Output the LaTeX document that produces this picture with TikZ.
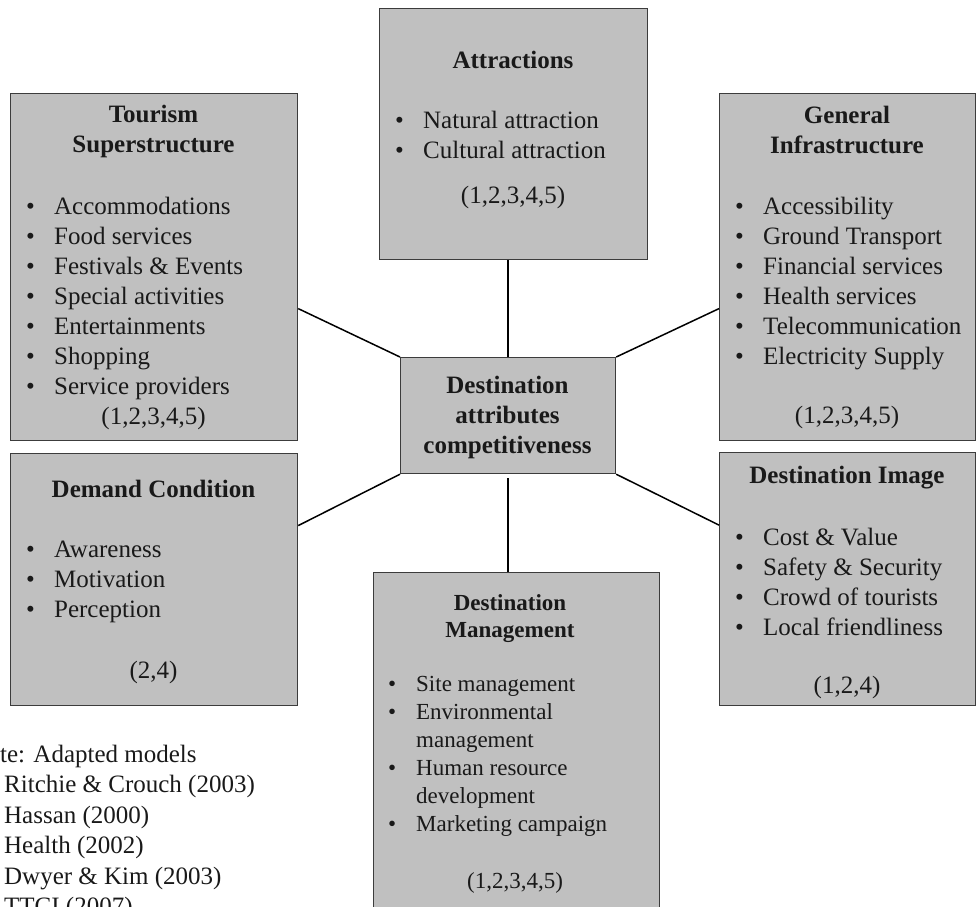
\documentclass[tikz,border=0pt]{standalone}
\usepackage{fontspec}
\setmainfont{Liberation Serif}
\usetikzlibrary{positioning}
\definecolor{boxfill}{RGB}{192,192,192}
\definecolor{boxline}{RGB}{60,60,60}
\tikzstyle{box}=[rectangle, draw=boxline, fill=boxfill, line width=1.2pt, anchor=north west, inner sep=0]
\tikzstyle{txt}=[inner sep=0, text=black!90, font=\fontsize{25}{30}\selectfont]
\tikzstyle{head}=[txt, anchor=base, font=\fontsize{25}{30}\selectfont\bfseries]
\tikzstyle{item}=[txt, anchor=base west]
\tikzstyle{refs}=[txt, anchor=base]
\tikzstyle{link}=[line width=1.5pt, black]
\newcommand{\bul}{\makebox[28pt][l]{\textbullet}}
\newcommand{\nobul}{\makebox[28pt][l]{}}

\begin{document}
\begin{tikzpicture}[x=1pt, y=-1pt]
      \useasboundingbox (0,0) rectangle (977,906);
      \clip (0,0) rectangle (977,906);

      \node[box, minimum width=287pt, minimum height=347pt] (super) at (10,93) {};
      \node[box, minimum width=268pt, minimum height=251pt] (attr) at (379,8) {};
      \node[box, minimum width=256pt, minimum height=347pt] (infra) at (719,93) {};
      \node[box, minimum width=215pt, minimum height=116pt] (dest) at (400,357) {};
      \node[box, minimum width=287pt, minimum height=252pt] (demand) at (10,453) {};
      \node[box, minimum width=256pt, minimum height=253pt] (image) at (719,452) {};
      \node[box, minimum width=286pt, minimum height=360pt] (manage) at (373,572) {};

      \draw[link] (dest.north) -- (dest.north |- attr.south);
      \draw[link] (dest.north west) -- ([yshift=-41.5pt]super.east);
      \draw[link] (dest.north east) -- ([yshift=-41.5pt]infra.west);
      \draw[link] (dest.south west) -- ([yshift=54pt]demand.east);
      \draw[link] (dest.south east) -- ([yshift=54pt]image.west);
      \draw[link] ([yshift=-4pt]dest.south) -- (dest.south |- manage.north);

      % centre
      \foreach \lbl [count=\i from 0] in {Destination, attributes, competitiveness}
        \node[head] (dest-\i) at (507.5,{393+30*\i}) {\lbl};

      % tourism superstructure
      \foreach \lbl [count=\i from 0] in {Tourism, Superstructure}
        \node[head] (super-h\i) at (153.5,{122+30*\i}) {\lbl};
      \foreach \lbl [count=\i from 0] in {Accommodations, Food services,
          Festivals \& Events, Special activities, Entertainments, Shopping,
          Service providers}
        \node[item] (super-\i) at (26,{214+30*\i}) {\bul\lbl};
      \node[refs] (super-r) at (153.5,424) {(1,2,3,4,5)};

      % attractions
      \node[head] (attr-h) at (513,68) {Attractions};
      \foreach \lbl [count=\i from 0] in {Natural attraction, Cultural attraction}
        \node[item] (attr-\i) at (395,{128+30*\i}) {\bul\lbl};
      \node[refs] (attr-r) at (513,203) {(1,2,3,4,5)};

      % general infrastructure
      \foreach \lbl [count=\i from 0] in {General, Infrastructure}
        \node[head] (infra-h\i) at (847,{123+30*\i}) {\lbl};
      \foreach \lbl [count=\i from 0] in {Accessibility, Ground Transport,
          Financial services, Health services, Telecommunication,
          Electricity Supply}
        \node[item] (infra-\i) at (735,{214+30*\i}) {\bul\lbl};
      \node[refs] (infra-r) at (847,423) {(1,2,3,4,5)};

      % destination image
      \node[head] (image-h) at (847,483) {Destination Image};
      \foreach \lbl [count=\i from 0] in {Cost \& Value, Safety \& Security,
          Crowd of tourists, Local friendliness}
        \node[item] (image-\i) at (735,{545+30*\i}) {\bul\lbl};
      \node[refs] (image-r) at (847,693) {(1,2,4)};

      % demand condition
      \node[head] (demand-h) at (153.5,497) {Demand Condition};
      \foreach \lbl [count=\i from 0] in {Awareness, Motivation, Perception}
        \node[item] (demand-\i) at (26,{557+30*\i}) {\bul\lbl};
      \node[refs] (demand-r) at (153.5,678) {(2,4)};

      % destination management
      \foreach \lbl [count=\i from 0] in {Destination, Management}
        \node[head, font=\fontsize{23}{28}\selectfont\bfseries] (manage-h\i)
          at (510,{610+27*\i}) {\lbl};
      \foreach \lbl/\b [count=\i from 0] in {Site management/\bul,
          Environmental/\bul, management/\nobul, Human resource/\bul,
          development/\nobul, Marketing campaign/\bul}
        \node[item, font=\fontsize{23}{28}\selectfont] (manage-\i)
          at (388,{691+28*\i}) {\b\lbl};
      \node[refs, font=\fontsize{23}{28}\selectfont] (manage-r) at (515,888) {(1,2,3,4,5)};

      % note
      \node[item] (note) at (-30.6,762) {Note: Adapted models};
      \foreach \lbl [count=\i] in {Ritchie \& Crouch (2003), Hassan (2000),
          Health (2002), Dwyer \& Kim (2003), TTCI (2007)}
        \node[item] (note-\i) at (4,{762+30.5*\i}) {\lbl};
\end{tikzpicture}
\end{document}
